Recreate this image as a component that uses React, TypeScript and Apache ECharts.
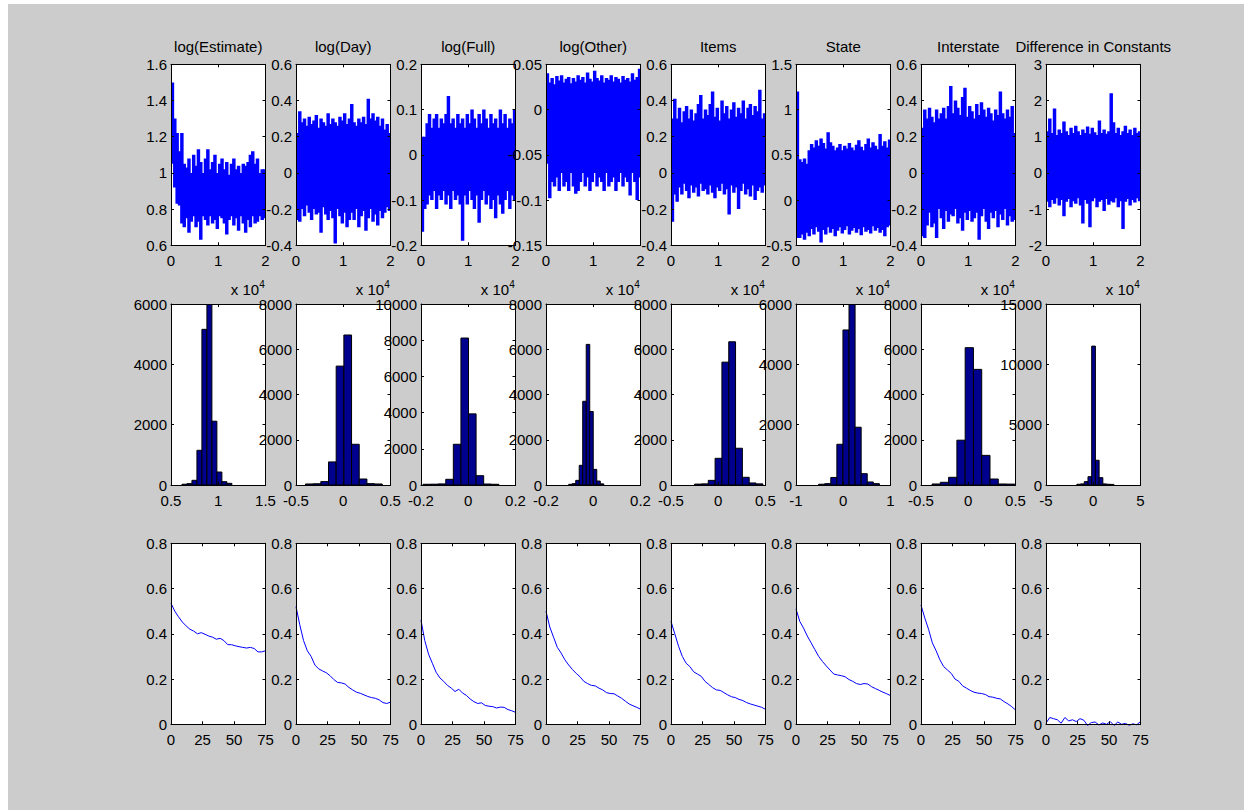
import React, { useEffect, useRef } from 'react';
import * as echarts from 'echarts';

// ---------- Row 1: MCMC traces (x in iterations, shown as x 10^4) ----------
const traceTitles = ['log(Estimate)', 'log(Day)', 'log(Full)', 'log(Other)', 'Items', 'State', 'Interstate', 'Difference in Constants'];
const traceStep = 500; // iterations covered by each trace column
const traceXTicks = [0, 10000, 20000];

const traceHi1 = [1.50, 1.30, 1.22, 1.12, 1.22, 1.05, 1.03, 1.08, 1.00, 1.10, 1.04, 1.13, 1.06, 1.00, 1.08, 1.13, 1.02, 1.06, 1.10, 1.00, 1.05, 1.08, 1.02, 1.06, 0.99, 1.05, 1.08, 1.02, 1.04, 1.00, 1.05, 1.04, 1.06, 1.10, 1.12, 1.05, 1.08, 1.00, 1.02, 1.02];
const traceLo1 = [1.05, 0.92, 0.83, 0.82, 0.72, 0.70, 0.75, 0.67, 0.73, 0.76, 0.70, 0.73, 0.63, 0.76, 0.74, 0.71, 0.76, 0.72, 0.74, 0.69, 0.76, 0.75, 0.72, 0.66, 0.74, 0.76, 0.71, 0.75, 0.68, 0.76, 0.72, 0.67, 0.74, 0.70, 0.76, 0.72, 0.73, 0.76, 0.74, 0.75];
const traceHi2 = [0.22, 0.34, 0.28, 0.30, 0.26, 0.31, 0.27, 0.29, 0.32, 0.25, 0.30, 0.28, 0.26, 0.33, 0.27, 0.30, 0.28, 0.26, 0.31, 0.29, 0.33, 0.27, 0.30, 0.38, 0.28, 0.26, 0.30, 0.28, 0.31, 0.27, 0.41, 0.30, 0.33, 0.29, 0.31, 0.26, 0.30, 0.24, 0.27, 0.22];
const traceLo2 = [-0.26, -0.27, -0.20, -0.24, -0.18, -0.22, -0.26, -0.20, -0.23, -0.22, -0.33, -0.19, -0.23, -0.26, -0.21, -0.25, -0.39, -0.20, -0.24, -0.28, -0.22, -0.30, -0.26, -0.22, -0.26, -0.20, -0.30, -0.24, -0.21, -0.32, -0.25, -0.20, -0.27, -0.23, -0.29, -0.21, -0.25, -0.22, -0.19, -0.21];
const traceHi3 = [0.04, 0.04, 0.07, 0.09, 0.06, 0.08, 0.09, 0.06, 0.08, 0.07, 0.09, 0.13, 0.07, 0.08, 0.06, 0.09, 0.07, 0.08, 0.06, 0.09, 0.07, 0.10, 0.08, 0.06, 0.09, 0.07, 0.10, 0.08, 0.06, 0.09, 0.07, 0.08, 0.06, 0.10, 0.07, 0.09, 0.06, 0.08, 0.07, 0.10];
const traceLo3 = [-0.17, -0.12, -0.11, -0.09, -0.10, -0.08, -0.12, -0.09, -0.10, -0.08, -0.11, -0.09, -0.12, -0.08, -0.10, -0.09, -0.11, -0.19, -0.09, -0.11, -0.08, -0.10, -0.12, -0.09, -0.15, -0.10, -0.08, -0.11, -0.09, -0.12, -0.10, -0.14, -0.09, -0.11, -0.13, -0.10, -0.08, -0.12, -0.09, -0.10];
const traceHi4 = [0.040, 0.030, 0.035, 0.028, 0.037, 0.032, 0.038, 0.030, 0.034, 0.036, 0.029, 0.035, 0.031, 0.038, 0.033, 0.036, 0.030, 0.041, 0.034, 0.031, 0.043, 0.035, 0.032, 0.038, 0.030, 0.035, 0.033, 0.038, 0.031, 0.036, 0.034, 0.030, 0.037, 0.033, 0.035, 0.031, 0.040, 0.033, 0.036, 0.045];
const traceLo4 = [-0.060, -0.098, -0.080, -0.085, -0.075, -0.090, -0.070, -0.085, -0.080, -0.090, -0.070, -0.085, -0.093, -0.090, -0.080, -0.070, -0.085, -0.075, -0.090, -0.080, -0.070, -0.085, -0.075, -0.080, -0.090, -0.070, -0.085, -0.080, -0.075, -0.090, -0.080, -0.070, -0.085, -0.075, -0.080, -0.095, -0.070, -0.080, -0.100, -0.075];
const traceHi5 = [0.30, 0.41, 0.30, 0.36, 0.28, 0.34, 0.37, 0.30, 0.35, 0.29, 0.33, 0.38, 0.43, 0.30, 0.35, 0.32, 0.38, 0.45, 0.31, 0.36, 0.29, 0.40, 0.33, 0.37, 0.30, 0.35, 0.39, 0.31, 0.36, 0.33, 0.40, 0.30, 0.36, 0.38, 0.32, 0.37, 0.34, 0.46, 0.30, 0.33];
const traceLo5 = [-0.27, -0.12, -0.16, -0.08, -0.12, -0.06, -0.10, -0.14, -0.07, -0.11, -0.08, -0.13, -0.06, -0.10, -0.09, -0.12, -0.07, -0.11, -0.14, -0.08, -0.10, -0.06, -0.12, -0.09, -0.23, -0.07, -0.11, -0.08, -0.20, -0.10, -0.06, -0.12, -0.09, -0.13, -0.07, -0.15, -0.10, -0.08, -0.11, -0.07];
const traceHi6 = [1.20, 0.45, 0.42, 0.46, 0.40, 0.55, 0.62, 0.58, 0.66, 0.60, 0.68, 0.63, 0.57, 0.75, 0.64, 0.60, 0.55, 0.58, 0.62, 0.55, 0.60, 0.57, 0.63, 0.58, 0.55, 0.61, 0.66, 0.59, 0.55, 0.62, 0.68, 0.58, 0.64, 0.60, 0.56, 0.73, 0.60, 0.65, 0.58, 0.67];
const traceLo6 = [-0.42, -0.42, -0.38, -0.44, -0.36, -0.40, -0.32, -0.38, -0.30, -0.35, -0.47, -0.33, -0.38, -0.30, -0.36, -0.32, -0.40, -0.34, -0.30, -0.37, -0.33, -0.29, -0.38, -0.34, -0.31, -0.36, -0.32, -0.39, -0.30, -0.35, -0.33, -0.37, -0.29, -0.34, -0.31, -0.36, -0.33, -0.40, -0.30, -0.28];
const traceHi7 = [0.25, 0.35, 0.30, 0.36, 0.31, 0.28, 0.35, 0.30, 0.33, 0.36, 0.30, 0.37, 0.48, 0.33, 0.40, 0.36, 0.32, 0.42, 0.47, 0.31, 0.37, 0.34, 0.30, 0.38, 0.32, 0.39, 0.35, 0.31, 0.36, 0.33, 0.29, 0.35, 0.32, 0.45, 0.33, 0.30, 0.35, 0.31, 0.37, 0.22];
const traceLo7 = [-0.35, -0.36, -0.29, -0.22, -0.30, -0.28, -0.36, -0.20, -0.25, -0.31, -0.21, -0.27, -0.23, -0.24, -0.20, -0.28, -0.25, -0.32, -0.22, -0.26, -0.21, -0.27, -0.25, -0.22, -0.37, -0.24, -0.20, -0.27, -0.31, -0.22, -0.25, -0.21, -0.30, -0.23, -0.26, -0.20, -0.29, -0.24, -0.27, -0.26];
const traceHi8 = [1.15, 1.50, 1.10, 1.78, 1.05, 1.20, 1.10, 1.42, 1.15, 1.05, 1.25, 1.10, 1.30, 1.15, 1.05, 1.20, 1.10, 1.28, 1.08, 1.25, 1.12, 1.05, 1.45, 1.10, 1.20, 1.08, 1.15, 2.20, 1.40, 1.10, 1.25, 1.05, 1.15, 1.30, 1.10, 1.20, 1.05, 1.25, 1.10, 1.15];
const traceLo8 = [-0.80, -0.95, -0.75, -0.85, -0.70, -0.90, -0.75, -1.20, -0.80, -0.72, -0.95, -0.78, -0.85, -0.70, -0.90, -1.40, -0.75, -0.85, -1.50, -0.78, -0.70, -0.95, -0.80, -0.75, -1.05, -0.72, -0.88, -0.78, -0.82, -0.70, -0.95, -0.78, -1.55, -0.80, -0.72, -0.90, -0.75, -0.82, -0.70, -0.78];

const traceHi = [traceHi1, traceHi2, traceHi3, traceHi4, traceHi5, traceHi6, traceHi7, traceHi8];
const traceLo = [traceLo1, traceLo2, traceLo3, traceLo4, traceLo5, traceLo6, traceLo7, traceLo8];
const traceYMin = [0.6, -0.4, -0.2, -0.15, -0.4, -0.5, -0.4, -2];
const traceYMax = [1.6, 0.6, 0.2, 0.05, 0.6, 1.5, 0.6, 3];
const traceYStep = [0.2, 0.2, 0.1, 0.05, 0.2, 0.5, 0.2, 1];

// ---------- Row 2: histograms (10 bins each) ----------
const histCounts1 = [25, 45, 155, 1150, 5160, 5990, 2115, 430, 110, 55];
const histCounts2 = [45, 55, 150, 1020, 5255, 6630, 1800, 265, 60, 45];
const histCounts3 = [40, 45, 60, 315, 2250, 8120, 3930, 515, 55, 40];
const histCounts4 = [30, 60, 205, 870, 3700, 6215, 3250, 690, 175, 50];
const histCounts5 = [40, 50, 205, 1180, 5430, 6330, 1625, 340, 90, 50];
const histCounts6 = [25, 45, 250, 1350, 5140, 5990, 1915, 375, 100, 45];
const histCounts7 = [45, 120, 340, 1980, 6070, 5110, 1310, 265, 45, 40];
const histCounts8 = [60, 90, 280, 690, 11510, 2050, 610, 90, 60, 50];
const histCounts = [histCounts1, histCounts2, histCounts3, histCounts4, histCounts5, histCounts6, histCounts7, histCounts8];
const histBinStart = [0.616, -0.40, -0.1915, -0.1039, -0.25, -0.521, -0.383, -1.737];
const histBinWidth = [0.0528, 0.0813, 0.0321, 0.01484, 0.0722, 0.1286, 0.0876, 0.393];
const histXMin = [0.5, -0.5, -0.2, -0.2, -0.5, -1, -0.5, -5];
const histXMax = [1.5, 0.5, 0.2, 0.2, 0.5, 1, 0.5, 5];
const histXStep = [0.5, 0.5, 0.2, 0.2, 0.5, 1, 0.5, 5];
const histYMax = [6000, 8000, 10000, 8000, 8000, 6000, 8000, 15000];
const histYStep = [2000, 2000, 2000, 2000, 2000, 2000, 2000, 5000];

// ---------- Row 3: autocorrelations ----------
const acfLags = [0, 3, 6, 9, 12, 15, 18, 21, 24, 27, 30, 33, 36, 39, 42, 45, 48, 51, 54, 57, 60, 63, 66, 69, 72, 75];
const acf1 = [0.535, 0.50, 0.475, 0.452, 0.435, 0.42, 0.412, 0.40, 0.405, 0.398, 0.39, 0.385, 0.376, 0.38, 0.37, 0.352, 0.352, 0.347, 0.343, 0.34, 0.337, 0.34, 0.335, 0.32, 0.32, 0.325];
const acf2 = [0.52, 0.44, 0.37, 0.325, 0.30, 0.262, 0.245, 0.236, 0.228, 0.215, 0.198, 0.185, 0.183, 0.178, 0.163, 0.152, 0.142, 0.137, 0.13, 0.123, 0.118, 0.115, 0.108, 0.096, 0.092, 0.098];
const acf3 = [0.46, 0.37, 0.31, 0.27, 0.23, 0.205, 0.19, 0.172, 0.16, 0.145, 0.155, 0.138, 0.128, 0.112, 0.10, 0.092, 0.095, 0.083, 0.08, 0.078, 0.072, 0.076, 0.075, 0.065, 0.06, 0.053];
const acf4 = [0.50, 0.43, 0.385, 0.34, 0.315, 0.285, 0.262, 0.242, 0.225, 0.21, 0.19, 0.18, 0.172, 0.17, 0.16, 0.152, 0.14, 0.136, 0.135, 0.125, 0.115, 0.102, 0.09, 0.082, 0.075, 0.067];
const acf5 = [0.455, 0.40, 0.345, 0.30, 0.27, 0.255, 0.232, 0.222, 0.212, 0.19, 0.176, 0.162, 0.152, 0.15, 0.14, 0.13, 0.122, 0.118, 0.11, 0.105, 0.096, 0.09, 0.085, 0.08, 0.075, 0.066];
const acf6 = [0.51, 0.455, 0.425, 0.39, 0.36, 0.33, 0.30, 0.278, 0.258, 0.24, 0.222, 0.218, 0.215, 0.21, 0.198, 0.19, 0.18, 0.176, 0.18, 0.178, 0.166, 0.158, 0.15, 0.142, 0.135, 0.127];
const acf7 = [0.527, 0.47, 0.42, 0.36, 0.325, 0.285, 0.255, 0.24, 0.225, 0.20, 0.19, 0.17, 0.16, 0.15, 0.142, 0.138, 0.136, 0.132, 0.122, 0.12, 0.115, 0.112, 0.10, 0.09, 0.078, 0.063];
const acf8 = [0.005, 0.03, 0.025, 0.02, 0.005, 0.03, 0.015, 0.02, 0.012, 0.025, 0.018, -0.005, 0.008, 0.01, -0.003, 0.006, 0.0, 0.012, -0.005, 0.01, 0.0, 0.004, -0.004, 0.002, -0.002, 0.012];
const acfSeries = [acf1, acf2, acf3, acf4, acf5, acf6, acf7, acf8];

// ---------- layout / style ----------
const FONT = '"Liberation Sans", Arial, Helvetica, sans-serif';
const FS = 15;
const PW = 94.5;
const PH = 181;
const ROW_TOP = [60.3, 300, 539.3];
const colLeft = (c: number) => 163 + c * 125;
const fmt = (v: number) => String(parseFloat(Number(v).toFixed(6)));

function axis(dim: 'x' | 'y', g: number, primary: boolean, min: number, max: number, interval: number, formatter?: (v: number) => string) {
  return {
    type: 'value',
    gridIndex: g,
    position: dim === 'x' ? (primary ? 'bottom' : 'top') : (primary ? 'left' : 'right'),
    min,
    max,
    interval,
    z: 10,
    axisLine: { show: true, onZero: false, lineStyle: { color: '#000', width: 1 } },
    axisTick: { show: true, inside: true, length: 3, lineStyle: { color: '#000', width: 1 } },
    axisLabel: {
      show: primary,
      color: '#000',
      fontSize: FS,
      fontFamily: FONT,
      margin: dim === 'x' ? 8 : 4,
      formatter: formatter || fmt,
    },
    splitLine: { show: false },
  };
}

function buildOption() {
  const grid: any[] = [];
  const xAxis: any[] = [];
  const yAxis: any[] = [];
  const series: any[] = [];
  const graphic: any[] = [];

  for (let row = 0; row < 3; row++) {
    for (let c = 0; c < 8; c++) {
      const g = row * 8 + c;
      grid.push({ left: colLeft(c), top: ROW_TOP[row], width: PW, height: PH, show: true, backgroundColor: '#ffffff', borderWidth: 0 });
      let xmin, xmax, xstep, ymin, ymax, ystep, xfmt;
      if (row === 0) {
        xmin = traceXTicks[0]; xmax = traceXTicks[2]; xstep = traceXTicks[1] - traceXTicks[0];
        ymin = traceYMin[c]; ymax = traceYMax[c]; ystep = traceYStep[c];
        xfmt = (v: number) => fmt(v / 10000);
      } else if (row === 1) {
        xmin = histXMin[c]; xmax = histXMax[c]; xstep = histXStep[c];
        ymin = 0; ymax = histYMax[c]; ystep = histYStep[c];
      } else {
        xmin = 0; xmax = 75; xstep = 25;
        ymin = 0; ymax = 0.8; ystep = 0.2;
      }
      xAxis.push(axis('x', g, true, xmin, xmax, xstep, xfmt));
      xAxis.push(axis('x', g, false, xmin, xmax, xstep));
      yAxis.push(axis('y', g, true, ymin, ymax, ystep));
      yAxis.push(axis('y', g, false, ymin, ymax, ystep));
      const xi = 2 * g;
      const yi = 2 * g;

      if (row === 0) {
        const half = traceStep / 2;
        series.push({
          type: 'custom',
          xAxisIndex: xi,
          yAxisIndex: yi,
          clip: true,
          encode: { x: 0, y: [1, 2] },
          data: traceHi[c].map((h, i) => [traceStep * i + half, traceLo[c][i], h]),
          renderItem: (params: any, api: any) => {
            const x = api.value(0);
            const lo = api.value(1);
            const hi = api.value(2);
            const a = api.coord([x - half, hi]);
            const b = api.coord([x + half, lo]);
            return {
              type: 'rect',
              shape: { x: a[0] - 0.3, y: a[1], width: b[0] - a[0] + 1.1, height: b[1] - a[1] },
              style: { fill: '#0000ff' },
            };
          },
        });
        graphic.push({
          type: 'text',
          x: colLeft(c) + PW / 2,
          y: 42,
          style: { text: traceTitles[c], font: `${FS}px ${FONT}`, fill: '#000', textAlign: 'center', textVerticalAlign: 'middle' },
        });
        const right = colLeft(c) + PW;
        graphic.push({
          type: 'text',
          x: right - 6.4,
          y: 285,
          style: { text: 'x 10', font: `${FS}px ${FONT}`, fill: '#000', textAlign: 'right', textVerticalAlign: 'middle' },
        });
        graphic.push({
          type: 'text',
          x: right - 6.2,
          y: 280,
          style: { text: '4', font: `10px ${FONT}`, fill: '#000', textAlign: 'left', textVerticalAlign: 'middle' },
        });
      } else if (row === 1) {
        const start = histBinStart[c];
        const w = histBinWidth[c];
        series.push({
          type: 'custom',
          xAxisIndex: xi,
          yAxisIndex: yi,
          clip: true,
          encode: { x: [0, 1], y: 2 },
          data: histCounts[c].map((n, i) => [start + i * w, start + (i + 1) * w, n]),
          renderItem: (params: any, api: any) => {
            const a = api.coord([api.value(0), api.value(2)]);
            const b = api.coord([api.value(1), 0]);
            return {
              type: 'rect',
              shape: { x: a[0], y: a[1], width: b[0] - a[0], height: b[1] - a[1] },
              style: { fill: '#00008f', stroke: '#000000', lineWidth: 1 },
            };
          },
        });
      } else {
        series.push({
          type: 'line',
          xAxisIndex: xi,
          yAxisIndex: yi,
          showSymbol: false,
          symbol: 'none',
          clip: false,
          lineStyle: { color: '#0000ff', width: 1 },
          data: acfLags.map((l, i) => [l, acfSeries[c][i]]),
        });
      }
    }
  }

  return {
    animation: false,
    backgroundColor: '#cccccc',
    grid,
    xAxis,
    yAxis,
    series,
    graphic,
  };
}

export default function App() {
  const ref = useRef<HTMLDivElement>(null);
  useEffect(() => {
    if (!ref.current) return;
    const chart = echarts.init(ref.current, null, { renderer: 'svg' });
    chart.setOption(buildOption() as any);
    return () => chart.dispose();
  }, []);
  return <div ref={ref} style={{ position: 'absolute', left: 8, top: 4, width: 1236, height: 806 }} />;
}
